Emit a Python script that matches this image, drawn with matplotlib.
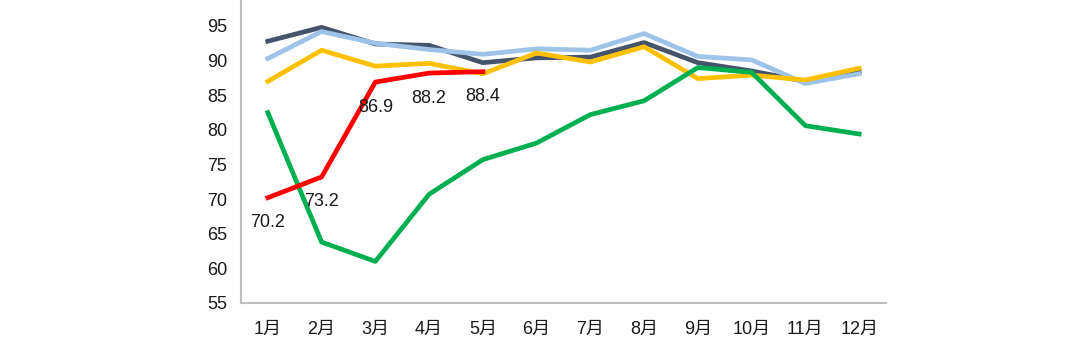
import matplotlib
matplotlib.use("Agg")
import matplotlib.pyplot as plt
import numpy as np

plt.rcParams['font.family'] = ['Liberation Sans', 'Noto Sans CJK SC', 'DejaVu Sans']

months = ["1月", "2月", "3月", "4月", "5月", "6月", "7月", "8月", "9月", "10月", "11月", "12月"]

# five series
navy = [92.8, 94.8, 92.4, 92.2, 89.7, 90.4, 90.5, 92.6, 89.7, 88.5, 87.0, 88.4]
light_blue = [90.3, 94.2, 92.5, 91.6, 90.9, 91.7, 91.5, 93.9, 90.6, 90.1, 86.7, 88.1]
yellow = [87.0, 91.5, 89.2, 89.6, 88.1, 91.1, 89.8, 92.0, 87.4, 87.9, 87.2, 88.9]
green = [82.5, 63.8, 61.0, 70.7, 75.7, 78.1, 82.2, 84.2, 89.0, 88.3, 80.6, 79.4]
red = [70.2, 73.2, 86.9, 88.2, 88.4]

x = np.arange(1, 13)

fig = plt.figure(figsize=(10.8, 3.37), dpi=100)
ax = fig.add_axes([0.2231, 0.1009, 0.5973, 0.8991])

lw = 3.4
ax.plot(x, navy, color="#44546A", lw=lw)
ax.plot(x, light_blue, color="#9DC3E6", lw=lw)
ax.plot(x, yellow, color="#FFC000", lw=lw)
ax.plot(x, green, color="#00B050", lw=lw)
ax.plot(x[:len(red)], red, color="#FF0000", lw=lw)

for xi, v in zip(x[:len(red)], red):
    ax.annotate("{:.1f}".format(v), (xi, v), xytext=(0, -18), textcoords="offset points",
                ha="center", va="center", fontsize=13, color="#1a1a1a")

ax.set_xlim(0.5, 12.5)
ax.set_ylim(55, 98.75)
ax.set_yticks(np.arange(55, 96, 5))
ax.set_xticks(x)
ax.set_xticklabels(months)

for s in ["top", "right"]:
    ax.spines[s].set_visible(False)
for s in ["left", "bottom"]:
    ax.spines[s].set_color("#BFBFBF")
    ax.spines[s].set_linewidth(1.5)

ax.tick_params(axis="x", length=0, pad=13, labelsize=13, colors="#1a1a1a")
ax.tick_params(axis="y", length=0, pad=10, labelsize=13, colors="#1a1a1a")

fig.savefig("out.png", dpi=100)
